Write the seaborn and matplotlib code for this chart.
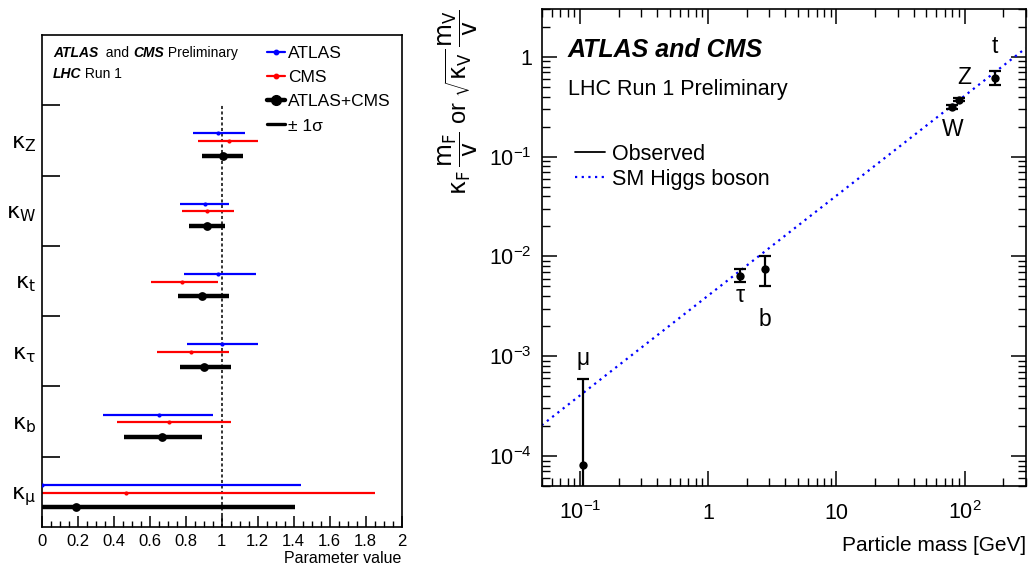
import numpy as np
import matplotlib
matplotlib.use("Agg")
import matplotlib.pyplot as plt
import seaborn as sns
from matplotlib.lines import Line2D
from matplotlib.ticker import MultipleLocator

# ---------------- data: left panel (coupling modifiers) ----------------
param_labels = [r"$\mathrm{\kappa_{\mu}}$", r"$\mathrm{\kappa_{b}}$", r"$\mathrm{\kappa_{\tau}}$",
                r"$\mathrm{\kappa_{t}}$", r"$\mathrm{\kappa_{W}}$", r"$\mathrm{\kappa_{Z}}$"]
atlas_val = [0.00, 0.65, 1.00, 0.98, 0.91, 0.98]
atlas_lo = [0.00, 0.34, 0.81, 0.79, 0.77, 0.84]
atlas_hi = [1.44, 0.95, 1.20, 1.19, 1.04, 1.13]
cms_val = [0.47, 0.71, 0.83, 0.78, 0.92, 1.04]
cms_lo = [0.00, 0.42, 0.64, 0.61, 0.78, 0.87]
cms_hi = [1.85, 1.05, 1.04, 0.98, 1.07, 1.20]
comb_val = [0.19, 0.67, 0.90, 0.89, 0.92, 1.01]
comb_lo = [0.00, 0.46, 0.77, 0.76, 0.82, 0.89]
comb_hi = [1.41, 0.89, 1.05, 1.04, 1.02, 1.12]
x_ticks_left = [0, 0.2, 0.4, 0.6, 0.8, 1, 1.2, 1.4, 1.6, 1.8, 2]
x_ticklabels_left = ["0", "0.2", "0.4", "0.6", "0.8", "1", "1.2", "1.4", "1.6", "1.8", "2"]

# ---------------- data: right panel (reduced couplings vs mass) ----------------
particles = ["\u03bc", "\u03c4", "b", "W", "Z", "t"]
mass = [0.1057, 1.777, 2.76, 80.4, 91.19, 172.5]
coupling = [8.1e-5, 6.4e-3, 7.5e-3, 0.314, 0.372, 0.614]
coupling_lo = [1e-6, 5.5e-3, 5.1e-3, 0.300, 0.358, 0.526]
coupling_hi = [5.9e-4, 7.5e-3, 1.0e-2, 0.328, 0.386, 0.716]
sm_mass = [0.05, 300.0]
sm_coupling = [2.03e-4, 1.22]
x_ticks_right = [0.1, 1, 10, 100]
x_ticklabels_right = [r"$10^{-1}$", "1", "10", r"$10^{2}$"]
y_ticks_right = [1e-4, 1e-3, 1e-2, 1e-1, 1]
y_ticklabels_right = [r"$10^{-4}$", r"$10^{-3}$", r"$10^{-2}$", r"$10^{-1}$", "1"]

# ---------------- style ----------------
sns.set_theme(style="ticks")
plt.rcParams["font.family"] = ["Liberation Sans", "DejaVu Sans"]
plt.rcParams["mathtext.fontset"] = "custom"
plt.rcParams["mathtext.rm"] = "Liberation Sans"
plt.rcParams["mathtext.it"] = "Liberation Sans:italic"
plt.rcParams["mathtext.bf"] = "Liberation Sans:bold"
plt.rcParams["axes.linewidth"] = 1.2
plt.rcParams["axes.edgecolor"] = "black"
plt.rcParams["text.color"] = "black"
plt.rcParams["axes.labelcolor"] = "black"
plt.rcParams["xtick.color"] = "black"
plt.rcParams["ytick.color"] = "black"

fig = plt.figure(figsize=(10.31, 5.69), dpi=100)
axL = fig.add_axes([0.0404, 0.0738, 0.3492, 0.8647])
axR = fig.add_axes([0.5254, 0.1459, 0.4694, 0.8378])

# ---------------- left panel ----------------
rows = np.arange(len(param_labels))
series = [
    (atlas_val, atlas_lo, atlas_hi, "#0000ff", 0.60, 1.6, 9),
    (cms_val, cms_lo, cms_hi, "#ff0000", 0.49, 1.6, 9),
    (comb_val, comb_lo, comb_hi, "black", 0.28, 3.2, 40),
]
for vals, lo, hi, color, off, lw, s in series:
    y = rows + off
    axL.hlines(y, lo, hi, color=color, lw=lw, zorder=2)
    sns.scatterplot(x=vals, y=y, ax=axL, color=color, s=s, edgecolor=color,
                    linewidth=0, zorder=3, legend=False, clip_on=True)

axL.vlines(1.0, 0, 6, colors="black", linestyles=(0, (2, 1.6)), lw=1.1, zorder=1)
axL.set_xlim(0, 2)
axL.set_ylim(0, 7)
axL.set_xticks(x_ticks_left)
axL.set_xticklabels(x_ticklabels_left)
axL.xaxis.set_minor_locator(MultipleLocator(0.05))
axL.tick_params(axis="x", which="major", direction="in", length=8, width=1.1,
                top=False, labelsize=12, pad=5)
axL.tick_params(axis="x", which="minor", direction="in", length=4, width=1.0, top=False)
axL.set_yticks(np.arange(1, 7))
axL.set_yticklabels([])
axL.set_yticks(rows + 0.5, labels=param_labels, minor=True)
axL.tick_params(axis="y", which="major", direction="in", length=13, width=1.2, right=False)
axL.tick_params(axis="y", which="minor", length=0, labelsize=16, pad=4)
for lab in axL.get_yticklabels(minor=True):
    lab.set_math_fontfamily("dejavusans")
axL.set_xlabel("Parameter value", fontsize=11.5, loc="right")
axL.xaxis.set_label_coords(1.0, -0.048)

# header text
t1 = axL.text(0.031, 0.955, "ATLAS", transform=axL.transAxes, fontsize=10,
              fontweight="bold", fontstyle="italic", va="baseline")
t2 = axL.annotate("  and ", xy=(1, 0), xycoords=t1, va="bottom", fontsize=10)
t3 = axL.annotate("CMS", xy=(1, 0), xycoords=t2, va="bottom", fontsize=10,
                  fontweight="bold", fontstyle="italic")
axL.annotate(" Preliminary", xy=(1, 0), xycoords=t3, va="bottom", fontsize=10)
t5 = axL.text(0.031, 0.913, "LHC", transform=axL.transAxes, fontsize=10,
              fontweight="bold", fontstyle="italic", va="baseline")
axL.annotate(" Run 1", xy=(1, 0), xycoords=t5, va="bottom", fontsize=10)

handlesL = [
    Line2D([], [], color="#0000ff", lw=1.6, marker="o", ms=3.2),
    Line2D([], [], color="#ff0000", lw=1.6, marker="o", ms=3.2),
    Line2D([], [], color="black", lw=3.2, marker="o", ms=7),
    Line2D([], [], color="black", lw=2.4),
]
axL.legend(handlesL, ["ATLAS", "CMS", "ATLAS+CMS", "\u00b1 1\u03c3"], loc="upper left",
           bbox_to_anchor=(0.627, 0.978), frameon=False, fontsize=12.5,
           handlelength=1.0, handletextpad=0.2, labelspacing=0.52,
           borderpad=0, borderaxespad=0)

# ---------------- right panel ----------------
axR.set_xscale("log")
axR.set_yscale("log")
sns.lineplot(x=sm_mass, y=sm_coupling, ax=axR, color="#0000ff", lw=1.6,
             linestyle=(0, (1, 2)), zorder=1, legend=False)
c = np.array(coupling)
yerr = np.array([c - np.array(coupling_lo), np.array(coupling_hi) - c])
axR.errorbar(mass, coupling, yerr=yerr, fmt="none", ecolor="black",
             elinewidth=1.6, capsize=4, capthick=1.6, zorder=2)
sns.scatterplot(x=mass, y=coupling, ax=axR, color="black", s=36, linewidth=0,
                zorder=3, legend=False)
axR.set_xlim(0.05, 300)
axR.set_ylim(5e-5, 3)

label_anchor = [coupling_hi[0]] + coupling[1:]
label_offsets = [(0, 15), (0, -14.5), (0, -36.5), (0, -16.5), (3.5, 16), (0, 23)]
for p, m, yv, (dx, dy) in zip(particles, mass, label_anchor, label_offsets):
    axR.annotate(p, xy=(m, yv), xytext=(dx, dy), textcoords="offset points",
                 ha="center", va="center", fontsize=16.5)

axR.set_xticks(x_ticks_right)
axR.set_xticklabels(x_ticklabels_right)
axR.set_yticks(y_ticks_right)
axR.set_yticklabels(y_ticklabels_right)
axR.tick_params(axis="both", which="major", direction="in", length=11, width=1.1,
                top=True, right=True, labelsize=15.5)
axR.tick_params(axis="both", which="minor", direction="in", length=5.5, width=1.0,
                top=True, right=True)
axR.tick_params(axis="x", which="major", pad=24)
axR.tick_params(axis="y", which="major", pad=7)
for lab in axR.get_xticklabels():
    lab.set_va("baseline")
for lab in axR.get_yticklabels():
    lab.set_va("center_baseline")

axR.set_xlabel("Particle mass [GeV]", fontsize=15, loc="right")
axR.xaxis.set_label_coords(1.0, -0.105)
axR.set_ylabel(r"$\mathrm{\kappa_F}\,\dfrac{\mathrm{m_F}}{\mathrm{v}}$ or "
               r"$\sqrt{\mathrm{\kappa_V}}\,\dfrac{\mathrm{m_V}}{\mathrm{v}}$",
               fontsize=17, loc="top", math_fontfamily="dejavusans")
axR.yaxis.set_label_coords(-0.128, 1.0)

axR.text(0.054, 0.90, "ATLAS and CMS", transform=axR.transAxes, fontsize=18,
         fontweight="bold", fontstyle="italic", va="baseline")
axR.text(0.054, 0.82, "LHC Run 1 Preliminary", transform=axR.transAxes, fontsize=15.5,
         va="baseline")

handlesR = [Line2D([], [], color="black", lw=1.3),
            Line2D([], [], color="#0000ff", lw=1.6, linestyle=(0, (1, 2)))]
axR.legend(handlesR, ["Observed", "SM Higgs boson"], loc="upper left",
           bbox_to_anchor=(0.069, 0.718), frameon=False, fontsize=15.5,
           handlelength=1.4, handletextpad=0.3, labelspacing=0.18,
           borderpad=0, borderaxespad=0)

fig.savefig("out.png", dpi=100)
